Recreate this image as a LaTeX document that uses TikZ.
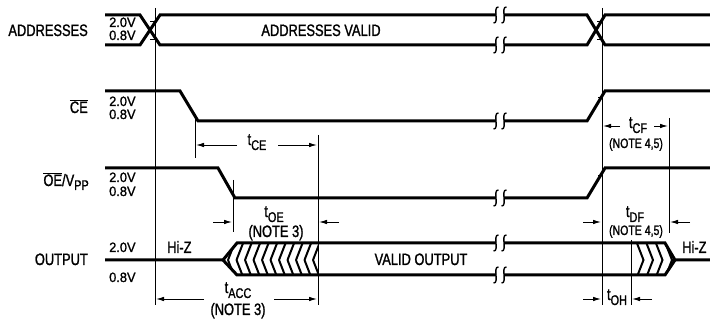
\documentclass[tikz,border=0pt]{standalone}
\usepackage{fontspec}
\setmainfont{Liberation Sans}
\newfontfamily\condfont{Liberation Sans}[FakeStretch=0.78,FakeBold=1.3]
\newfontfamily\plainfont{Liberation Sans}[FakeStretch=0.95,FakeBold=1.1]
\newcommand\labfont{\condfont\fontsize{16.5}{16.5}\selectfont}
\newcommand\voltfont{\plainfont\fontsize{13.5}{13.5}\selectfont}
\newcommand\smallnotefont{\condfont\fontsize{13.5}{13.5}\selectfont}
\newcommand\tsub[1]{t\raisebox{-5pt}{\fontsize{14}{14}\selectfont #1}}
\usetikzlibrary{arrows.meta}
\begin{document}
\begin{tikzpicture}[x=1pt,y=-1pt,
  sig/.style={line width=3pt},
  guide/.style={line width=0.9pt},
  dimarrow/.style={line width=0.9pt,-{Latex[length=8pt,width=4.5pt]}},
  brkcurve/.style={line width=1.4pt},
  lab/.style={inner sep=0pt,font=\labfont},
  volt/.style={inner sep=0pt,font=\voltfont},
  snote/.style={inner sep=0pt,font=\smallnotefont},
  hatch/.style={line width=2pt},
  brk/.pic={\draw[brkcurve] (2.5,-8) .. controls (-1,-8.5) and (0,-3) .. (0,0) .. controls (0,3) and (1,8.5) .. (-2.5,8);}]
\useasboundingbox (0,0) rectangle (710,320);

% ---------- labels on the left ----------
\node[lab,anchor=base east] (lAddr) at (88,36) {ADDRESSES};
\node[lab,anchor=base east] (lCE) at (88,113) {\(\overline{\hbox{CE}}\)};
\node[lab,anchor=base east] (lOE) at (89,186) {\(\overline{\hbox{OE}}\)/V\raisebox{-4pt}{\fontsize{14}{14}\selectfont PP}};
\node[lab,anchor=base east] (lOut) at (88,265) {OUTPUT};

\node[volt,anchor=base west] (vA1) at (109,27) {2.0V};
\node[volt,anchor=base west] (vA2) at (109,40) {0.8V};
\node[volt,anchor=base west] (vC1) at (109,106) {2.0V};
\node[volt,anchor=base west] (vC2) at (109,119) {0.8V};
\node[volt,anchor=base west] (vO1) at (109,182) {2.0V};
\node[volt,anchor=base west] (vO2) at (109,196) {0.8V};
\node[volt,anchor=base west] (vQ1) at (109,252) {2.0V};
\node[volt,anchor=base west] (vQ2) at (109,282) {0.8V};

% ---------- ADDRESSES ----------
\draw[sig] (105,15) -- (140,15) -- (160,45) -- (496,45);
\draw[sig] (105,45) -- (140,45) -- (160,15) -- (496,15);
\draw[sig] (504,15) -- (587,15) -- (605,45) -- (710,45);
\draw[sig] (504,45) -- (587,45) -- (605,15) -- (710,15);
\node[lab,anchor=base] (av) at (321,36) {ADDRESSES VALID};

% ---------- CE ----------
\draw[sig] (105,91) -- (180,91) -- (198,121) -- (496,121);
\draw[sig] (504,121) -- (587,121) -- (605,91) -- (710,91);

% ---------- OE ----------
\draw[sig] (105,168) -- (218,168) -- (235,198) -- (496,198);
\draw[sig] (504,198) -- (587,198) -- (605,168) -- (710,168);

% ---------- OUTPUT ----------
\begin{scope}
\clip (223,260) -- (237,243) -- (318,243) -- (318,275) -- (237,275) -- cycle;
\foreach \x in {228,236.5,...,322} {
  \draw[hatch] (\x,260) -- (\x+7,242) (\x,260) -- (\x+7,278);
}
\end{scope}
\begin{scope}
\clip (630,243) -- (665,243) -- (675,260) -- (665,275) -- (630,275) -- (637,260) -- cycle;
\foreach \x in {627,636.5,...,672} {
  \draw[hatch] (\x,242) -- (\x+7,260) -- (\x,278);
}
\end{scope}
\draw[sig] (105,260) -- (223,260) -- (237,243) -- (496,243);
\draw[sig] (223,260) -- (237,275) -- (496,275);
\draw[sig] (504,243) -- (665,243) -- (675,260) -- (710,260);
\draw[sig] (504,275) -- (665,275) -- (675,260);
\node[lab,anchor=base west] (hz1) at (167,253) {Hi-Z};
\node[lab,anchor=base west] (hz2) at (682,253) {Hi-Z};
\node[lab,anchor=base] (vo) at (421,265) {VALID OUTPUT};

% ---------- breaks ----------
\foreach \y in {15,45,121,198,243,275} {
  \pic at (496,\y) {brk};
  \pic at (504,\y) {brk};
}

% ---------- guide lines ----------
\draw[guide] (155,8) -- (155,305);
\draw[guide] (195,114) -- (195,158);
\draw[guide] (233,180) -- (233,232);
\draw[guide] (318,135) -- (318,305);
\draw[guide] (602,8) -- (602,305);
\draw[guide] (631,240) -- (631,305);
\draw[guide] (669,118) -- (669,233);
% small ticks
\draw[guide] (150,21) -- (155,21) (150,39) -- (155,39);
\draw[guide] (597,21) -- (602,21) (597,39) -- (602,39);
\draw[guide] (598,97) -- (602,97) (598,175) -- (602,175);

% ---------- timing dimensions ----------
\node[lab,anchor=base] (tce) at (257,145) {\tsub{CE}};
\draw[dimarrow] (237,145) -- (196,145);
\draw[dimarrow] (278,145) -- (317,145);

\node[lab,anchor=base] (tcf) at (638,128) {\tsub{CF}};
\node[snote,anchor=base] (ncf) at (636,148) {(NOTE 4,5)};
\draw[dimarrow] (620,126) -- (603,126);
\draw[dimarrow] (654,126) -- (668,126);

\node[lab,anchor=base] (toe) at (274,217) {\tsub{OE}};
\node[lab,anchor=base] (noe) at (276,237) {(NOTE 3)};
\draw[dimarrow] (213,222) -- (232,222);
\draw[dimarrow] (339,222) -- (319,222);

\node[lab,anchor=base] (tacc) at (238,293) {\tsub{ACC}};
\node[lab,anchor=base] (nacc) at (238,315) {(NOTE 3)};
\draw[dimarrow] (204,299) -- (156,299);
\draw[dimarrow] (274,299) -- (317,299);

\node[lab,anchor=base] (tdf) at (635,217) {\tsub{DF}};
\node[snote,anchor=base] (ndf) at (636,235) {(NOTE 4,5)};
\draw[dimarrow] (583,222) -- (601,222);
\draw[dimarrow] (690,222) -- (670,222);

\node[lab,anchor=base] (toh) at (617,300) {\tsub{OH}};
\draw[dimarrow] (583,299) -- (601,299);
\draw[dimarrow] (652,299) -- (632,299);
\end{tikzpicture}
\end{document}
